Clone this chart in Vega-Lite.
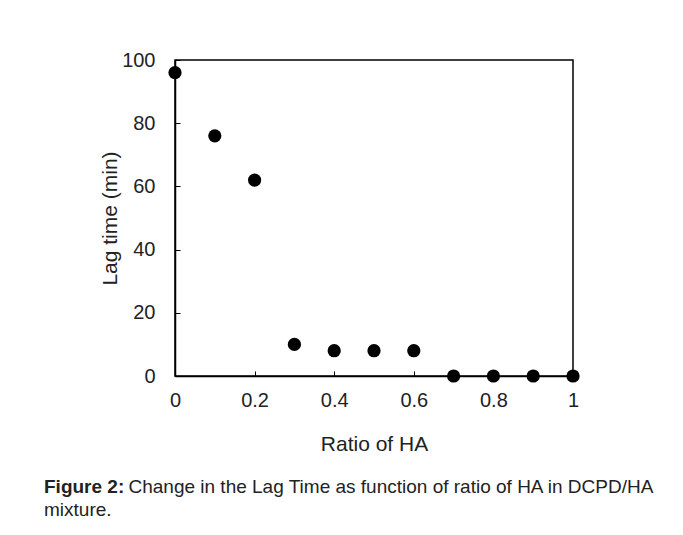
{
  "$schema": "https://vega.github.io/schema/vega-lite/v6.json",
  "width": 398,
  "height": 316,
  "autosize": {"type": "none"},
  "padding": {"left": 175, "top": 60, "right": 110, "bottom": 159},
  "background": "white",
  "title": {
    "text": "Figure 2:",
    "subtitle": ["\u200b\u00a0\u00a0\u00a0\u00a0\u00a0\u00a0\u00a0\u00a0\u00a0\u00a0\u00a0\u00a0\u00a0\u00a0\u00a0\u00a0Change in the Lag Time as function of ratio of HA in DCPD/HA", "mixture."],
    "orient": "bottom",
    "anchor": "start",
    "frame": "group",
    "dx": -131,
    "offset": 23,
    "font": "Liberation Sans",
    "fontSize": 19,
    "fontWeight": "bold",
    "color": "#222",
    "subtitleFont": "Liberation Sans",
    "subtitleFontSize": 19,
    "subtitleColor": "#222",
    "subtitleLineHeight": 23,
    "subtitlePadding": -19
  },
  "data": {
    "values": [
      {"ratio": 0, "lag": 96},
      {"ratio": 0.1, "lag": 76},
      {"ratio": 0.2, "lag": 62},
      {"ratio": 0.3, "lag": 10},
      {"ratio": 0.4, "lag": 8},
      {"ratio": 0.5, "lag": 8},
      {"ratio": 0.6, "lag": 8},
      {"ratio": 0.7, "lag": 0},
      {"ratio": 0.8, "lag": 0},
      {"ratio": 0.9, "lag": 0},
      {"ratio": 1, "lag": 0}
    ]
  },
  "mark": {"type": "point", "filled": true, "color": "black", "opacity": 1, "size": 175, "clip": false},
  "encoding": {
    "x": {
      "field": "ratio",
      "type": "quantitative",
      "scale": {"domain": [0, 1], "nice": false},
      "axis": {"title": "Ratio of HA", "values": [0, 0.2, 0.4, 0.6, 0.8, 1], "format": "~g", "labelFlush": false, "titlePadding": 23, "labelPadding": 19.5}
    },
    "y": {
      "field": "lag",
      "type": "quantitative",
      "scale": {"domain": [0, 100], "nice": false},
      "axis": {"title": "Lag time (min)", "values": [0, 20, 40, 60, 80, 100], "titlePadding": 1, "labelPadding": 25}
    }
  },
  "config": {
    "view": {"stroke": "black", "strokeWidth": 1.5},
    "axis": {
      "grid": false,
      "domainColor": "black",
      "domainWidth": 1.5,
      "tickColor": "black",
      "tickWidth": 1,
      "tickSize": -5,
      "labelFont": "Liberation Sans",
      "labelFontSize": 20,
      "labelColor": "#222",
      "titleFont": "Liberation Sans",
      "titleFontSize": 21,
      "titleFontWeight": "normal",
      "titleColor": "#222"
    }
  }
}
